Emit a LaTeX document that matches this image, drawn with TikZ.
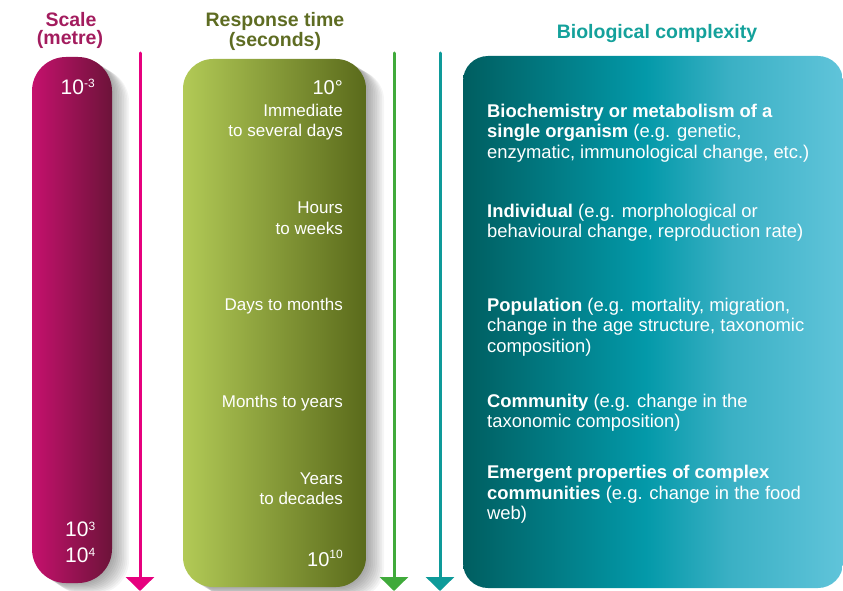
\documentclass[tikz,border=0pt]{standalone}
\usepackage{fontspec}
\setmainfont{Liberation Sans}
\usetikzlibrary{arrows.meta}
\definecolor{magL}{HTML}{C5116D}
\definecolor{magR}{HTML}{6C1339}
\definecolor{grnL}{HTML}{B2CA56}
\definecolor{grnR}{HTML}{5A6A1B}
\definecolor{tealL}{HTML}{005E60}
\definecolor{tealM}{HTML}{0399A9}
\definecolor{tealM2}{HTML}{3AB0C4}
\definecolor{tealR}{HTML}{60C4DA}
\definecolor{magArrow}{HTML}{E6007E}
\definecolor{grnArrow}{HTML}{40AA3B}
\definecolor{tealArrow}{HTML}{0E9A99}
\definecolor{hdMag}{HTML}{A31C5E}
\definecolor{hdGrn}{HTML}{5E6C22}
\definecolor{hdTeal}{HTML}{14A19B}
\pgfdeclarehorizontalshading{tealshade}{100bp}{color(0bp)=(tealL); color(25bp)=(tealL); color(49bp)=(tealM); color(60bp)=(tealM2); color(75bp)=(tealR); color(100bp)=(tealR)}
\tikzset{
  hdr/.style={inner sep=0pt, anchor=base, font=\fontsize{19.5}{19.5}\selectfont\bfseries},
  grntxt/.style={inner sep=0pt, anchor=base east, text=white, font=\fontsize{17}{17}\selectfont},
  tealtxt/.style={inner sep=0pt, anchor=base west, text=white, font=\fontsize{18.4}{18.4}\selectfont},
  bignum/.style={inner sep=0pt, text=white, font=\fontsize{21}{21}\selectfont},
  vline/.style={line width=3pt, line cap=round, -{Triangle[width=28pt,length=14pt]}},
  shadowpiece/.style={black, opacity=0.04}
}
\newcommand{\supr}[2]{\raisebox{#1}{\fontsize{12}{12}\selectfont #2}}
\begin{document}
\begin{tikzpicture}[x=1pt,y=-1pt]
\useasboundingbox (0,0) rectangle (843,591);
% shadows
\foreach \i in {1,...,10}{
  \fill[shadowpiece, rounded corners=34pt, xshift=1.7*\i pt, yshift=-1.1*\i pt] (32,57) rectangle (112,583);
  \fill[shadowpiece, rounded corners=30pt, xshift=1.8*\i pt, yshift=-1.1*\i pt] (183,59) rectangle (366,587);
}
% boxes
\shade[left color=magL, right color=magR, rounded corners=34pt] (32,57) rectangle (112,583);
\shade[left color=grnL, right color=grnR, rounded corners=30pt] (183,59) rectangle (366,587);
\shade[shading=tealshade, rounded corners=25pt] (463,56) rectangle (843,588);
% arrows
\coordinate (m1) at (140,53); \coordinate (m2) at (140,591);
\coordinate (g1) at (394,53); \coordinate (g2) at (394,591);
\coordinate (t1) at (440,53); \coordinate (t2) at (440,591);
\draw[vline, magArrow] (m1) -- (m2);
\draw[vline, grnArrow] (g1) -- (g2);
\draw[vline, tealArrow] (t1) -- (t2);
% headers
\node[hdr, text=hdMag] (h1a) at (71,26.7) {Scale};
\node[hdr, text=hdMag] (h1b) at (70,45) {(metre)};
\node[hdr, text=hdGrn] (h2a) at (275,26.7) {Response time};
\node[hdr, text=hdGrn] (h2b) at (275,46.7) {(seconds)};
\node[hdr, text=hdTeal] (h3) at (657,38.3) {Biological complexity};
% scale values
\node[bignum, anchor=base west] (s1) at (60.5,94.3) {10\supr{7pt}{-3}};
\node[bignum, anchor=base west] (s2) at (65,536.7) {10\supr{6pt}{3}};
\node[bignum, anchor=base west] (s3) at (65,562.7) {10\supr{6pt}{4}};
% response time
\node[grntxt, font=\fontsize{20}{20}\selectfont] (r0) at (343,95) {10°};
\node[grntxt] (r1a) at (343,116.5) {Immediate};
\node[grntxt] (r1b) at (343,136.5) {to several days};
\node[grntxt] (r2a) at (343,213.5) {Hours};
\node[grntxt] (r2b) at (343,234) {to weeks};
\node[grntxt] (r3) at (343,310.5) {Days to months};
\node[grntxt] (r4) at (343,407) {Months to years};
\node[grntxt] (r5a) at (343,484) {Years};
\node[grntxt] (r5b) at (343,504) {to decades};
\node[grntxt, font=\fontsize{20}{20}\selectfont] (r6) at (343,566) {10\supr{7.5pt}{10}};
% complexity
\node[tealtxt] (c1a) at (487,117.5) {\bfseries Biochemistry or metabolism of a};
\node[tealtxt] (c1b) at (487,138) {\textbf{single organism} (e.g. genetic,};
\node[tealtxt] (c1c) at (487,158.5) {enzymatic, immunological change, etc.)};
\node[tealtxt] (c2a) at (487,217) {\textbf{Individual} (e.g. morphological or};
\node[tealtxt] (c2b) at (487,237.5) {behavioural change, reproduction rate)};
\node[tealtxt] (c3a) at (487,311) {\textbf{Population} (e.g. mortality, migration,};
\node[tealtxt] (c3b) at (487,331.5) {change in the age structure, taxonomic};
\node[tealtxt] (c3c) at (487,352) {composition)};
\node[tealtxt] (c4a) at (487,407) {\textbf{Community} (e.g. change in the};
\node[tealtxt] (c4b) at (487,427.5) {taxonomic composition)};
\node[tealtxt] (c5a) at (487,478.5) {\bfseries Emergent properties of complex};
\node[tealtxt] (c5b) at (487,499) {\textbf{communities} (e.g. change in the food};
\node[tealtxt] (c5c) at (487,519.5) {web)};
\end{tikzpicture}
\end{document}
